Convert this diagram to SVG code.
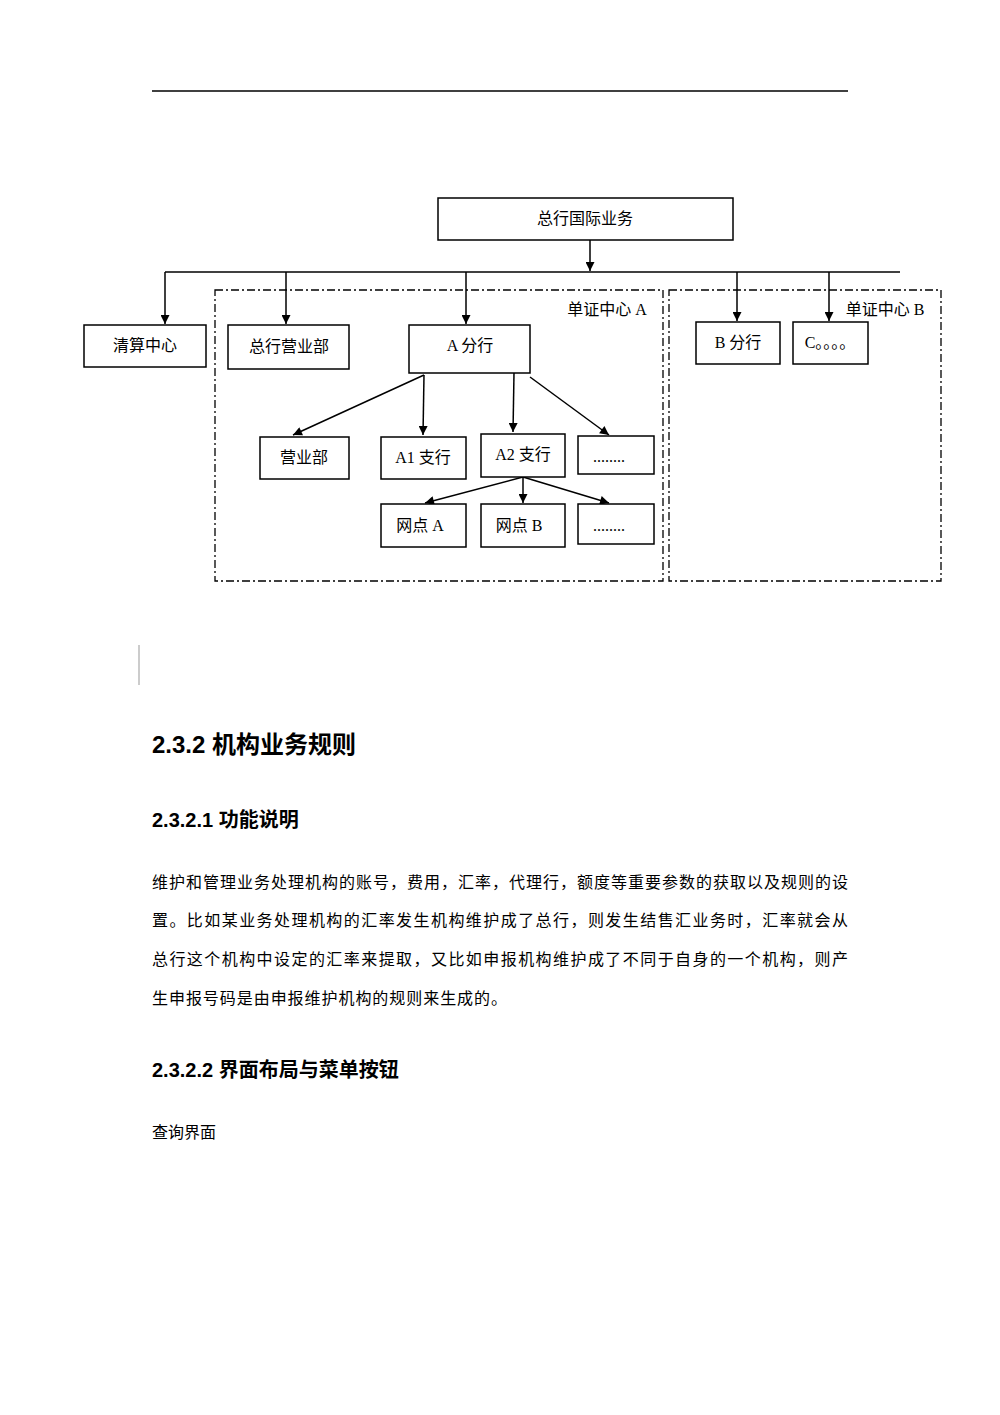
<svg xmlns="http://www.w3.org/2000/svg" width="1000" height="1415" viewBox="0 0 1000 1415">
<defs>
<marker id="ah" viewBox="0 0 10 10" refX="10" refY="5" markerWidth="10" markerHeight="9" orient="auto" markerUnits="userSpaceOnUse"><path d="M0,0 L10,5 L0,10 z" fill="#000"/></marker>
</defs>
<style>
.b{fill:#fff;stroke:#000;stroke-width:1.5}
.t{font-family:"Liberation Serif","Noto Sans CJK SC",serif;font-size:16px;text-anchor:middle;fill:#000}
.c{stroke:#000;stroke-width:1.5;fill:none}
.d{fill:none;stroke:#000;stroke-width:1.3;stroke-dasharray:8,3,2,3}
.h{font-family:"Liberation Sans","Noto Sans CJK SC",sans-serif;font-weight:bold;fill:#000}
.p{font-family:"Liberation Serif","Noto Sans CJK SC",serif;font-size:16px;fill:#000}
</style>
<rect width="1000" height="1415" fill="#fff"/>
<line x1="152" y1="91" x2="848" y2="91" stroke="#000" stroke-width="1.5"/>
<rect class="d" x="215" y="290" width="448" height="291"/>
<rect class="d" x="669" y="290" width="272" height="291"/>
<text class="t" x="607" y="315">单证中心 A</text>
<text class="t" x="885" y="315">单证中心 B</text>
<g id="connectors">
<line class="c" x1="590" y1="240" x2="590" y2="271" marker-end="url(#ah)"/>
<line class="c" x1="165" y1="272" x2="900" y2="272"/>
<line class="c" x1="165" y1="272" x2="165" y2="324" marker-end="url(#ah)"/>
<line class="c" x1="286" y1="272" x2="286" y2="324" marker-end="url(#ah)"/>
<line class="c" x1="466" y1="272" x2="466" y2="324" marker-end="url(#ah)"/>
<line class="c" x1="737" y1="272" x2="737" y2="321" marker-end="url(#ah)"/>
<line class="c" x1="829" y1="272" x2="829" y2="321" marker-end="url(#ah)"/>
<line class="c" x1="424" y1="375" x2="293" y2="435" marker-end="url(#ah)"/>
<line class="c" x1="424" y1="375" x2="423" y2="435" marker-end="url(#ah)"/>
<line class="c" x1="514" y1="373" x2="513" y2="432" marker-end="url(#ah)"/>
<line class="c" x1="530" y1="377" x2="609" y2="435" marker-end="url(#ah)"/>
<line class="c" x1="523" y1="477" x2="425" y2="503" marker-end="url(#ah)"/>
<line class="c" x1="523" y1="477" x2="523" y2="503" marker-end="url(#ah)"/>
<line class="c" x1="523" y1="477" x2="609" y2="503" marker-end="url(#ah)"/>
</g>
<g id="n0"><rect class="b" x="438" y="198" width="295" height="42"/><text class="t" x="585" y="224">总行国际业务</text></g>
<g id="n1"><rect class="b" x="84" y="325" width="122" height="42"/><text class="t" x="145" y="351">清算中心</text></g>
<g id="n2"><rect class="b" x="228" y="325" width="121" height="44"/><text class="t" x="289" y="352">总行营业部</text></g>
<g id="n3"><rect class="b" x="409" y="325" width="121" height="48"/><text class="t" x="470" y="351">A 分行</text></g>
<g id="n4"><rect class="b" x="696" y="322" width="84" height="42"/><text class="t" x="738" y="348">B 分行</text></g>
<g id="n5"><rect class="b" x="793" y="322" width="75" height="42"/><text class="t" x="830" y="348">C。。。。</text></g>
<g id="n6"><rect class="b" x="260" y="437" width="89" height="42"/><text class="t" x="304" y="463">营业部</text></g>
<g id="n7"><rect class="b" x="381" y="437" width="85" height="42"/><text class="t" x="423" y="463">A1 支行</text></g>
<g id="n8"><rect class="b" x="481" y="434" width="84" height="43"/><text class="t" x="523" y="460">A2 支行</text></g>
<g id="n9"><rect class="b" x="578" y="436" width="76" height="38"/><text class="t" x="609" y="462">........</text></g>
<g id="n10"><rect class="b" x="381" y="504" width="85" height="43"/><text class="t" x="420" y="531">网点 A</text></g>
<g id="n11"><rect class="b" x="481" y="504" width="84" height="43"/><text class="t" x="519" y="531">网点 B</text></g>
<g id="n12"><rect class="b" x="578" y="504" width="76" height="40"/><text class="t" x="609" y="531">........</text></g>
<line x1="139" y1="645" x2="139" y2="685" stroke="#999" stroke-width="1"/>
<text class="h" x="152" y="753" font-size="24">2.3.2  机构业务规则</text>
<text class="h" x="152" y="827" font-size="20">2.3.2.1  功能说明</text>
<text class="p" x="152" y="888" textLength="696" lengthAdjust="spacing">维护和管理业务处理机构的账号，费用，汇率，代理行，额度等重要参数的获取以及规则的设</text>
<text class="p" x="152" y="926" textLength="696" lengthAdjust="spacing">置。比如某业务处理机构的汇率发生机构维护成了总行，则发生结售汇业务时，汇率就会从</text>
<text class="p" x="152" y="965" textLength="696" lengthAdjust="spacing">总行这个机构中设定的汇率来提取，又比如申报机构维护成了不同于自身的一个机构，则产</text>
<text class="p" x="152" y="1004" textLength="355" lengthAdjust="spacing">生申报号码是由申报维护机构的规则来生成的。</text>
<text class="h" x="152" y="1077" font-size="20">2.3.2.2 界面布局与菜单按钮</text>
<text class="p" x="152" y="1138">查询界面</text>
</svg>
